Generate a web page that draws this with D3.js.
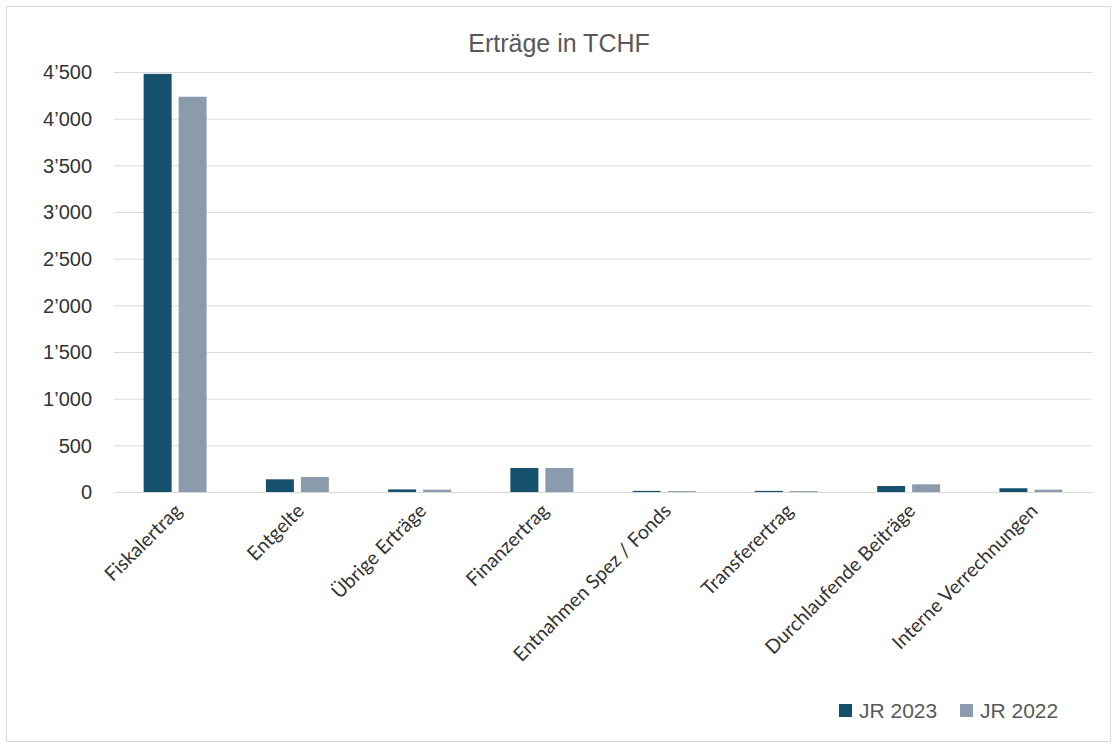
<!DOCTYPE html>
<html><head><meta charset="utf-8">
<script src="https://cdn.jsdelivr.net/npm/d3@7"></script>
<style>body{margin:0;background:#fff}svg{display:block}</style>
</head><body>
<svg id="c" width="1117" height="747"></svg>
<script>
const categories = ["Fiskalertrag","Entgelte","Übrige Erträge","Finanzertrag","Entnahmen Spez / Fonds","Transferertrag","Durchlaufende Beiträge","Interne Verrechnungen"];
const seriesNames = ["JR 2023","JR 2022"];
const jr2023 = [4480,136,28,257,12,12,64,40];
const jr2022 = [4235,161,25,257,10,10,82,25];
const yTicks = [0,500,1000,1500,2000,2500,3000,3500,4000,4500];
const colors = ["#15506c","#8a9bab"];

const svg = d3.select("#c");
svg.append("rect").attr("x",6.5).attr("y",6.5).attr("width",1104).attr("height",735)
  .attr("fill","#fff").attr("stroke","#d9d9d9");

const x0 = d3.scaleBand().domain(categories).range([114,1092]).paddingInner(0.485).paddingOuter(0.2425);
const x1 = d3.scaleBand().domain(seriesNames).range([0,x0.bandwidth()]).paddingInner(0.2);
const y = d3.scaleLinear().domain([0,4500]).range([492,72]);
const loc = d3.formatLocale({decimal:".",thousands:"’",grouping:[3],currency:["",""]});
const fmt = loc.format(",d");

// gridlines
svg.append("g").selectAll("line").data(yTicks).join("line")
  .attr("x1",114).attr("x2",1092).attr("y1",d=>y(d)+0.5).attr("y2",d=>y(d)+0.5)
  .attr("stroke","#d9d9d9").attr("stroke-width",1);

// y labels
svg.append("g").selectAll("text").data(yTicks).join("text")
  .attr("x",92).attr("y",d=>y(d)).attr("dy","0.36em").attr("text-anchor","end")
  .attr("font-family","Liberation Sans, Arial, sans-serif").attr("font-size",20).attr("fill","#333")
  .text(d=>fmt(d));

// bars
const data = categories.map((c,i)=>({c, vals:[jr2023[i],jr2022[i]]}));
const g = svg.append("g").selectAll("g").data(data).join("g")
  .attr("transform",d=>`translate(${x0(d.c)},0)`);
g.selectAll("rect").data(d=>d.vals.map((v,j)=>({s:seriesNames[j],v,j}))).join("rect")
  .attr("x",d=>x1(d.s)).attr("width",x1.bandwidth())
  .attr("y",d=>y(d.v)).attr("height",d=>y(0)-y(d.v))
  .attr("fill",d=>colors[d.j]);

// x labels
svg.append("g").selectAll("text").data(categories).join("text")
  .attr("transform",d=>`translate(${x0(d)+x0.bandwidth()/2+8},512) rotate(-45)`)
  .attr("text-anchor","end")
  .attr("font-family","Lato, Carlito, Calibri, sans-serif").attr("font-size",19.5).attr("fill","#333")
  .text(d=>d);

// title
svg.append("text").attr("x",559).attr("y",52).attr("text-anchor","middle")
  .attr("font-family","Liberation Sans, Arial, sans-serif").attr("font-size",25).attr("fill","#595959")
  .text("Erträge in TCHF");

// legend
const lx = [839,960];
const lg = svg.append("g").selectAll("g").data(seriesNames).join("g")
  .attr("transform",(d,i)=>`translate(${lx[i]},704)`);
lg.append("rect").attr("width",13).attr("height",13).attr("fill",(d,i)=>colors[i]);
lg.append("text").attr("x",20).attr("y",14)
  .attr("font-family","Liberation Sans, Arial, sans-serif").attr("font-size",21).attr("fill","#595959")
  .text(d=>d);
</script>
</body></html>
